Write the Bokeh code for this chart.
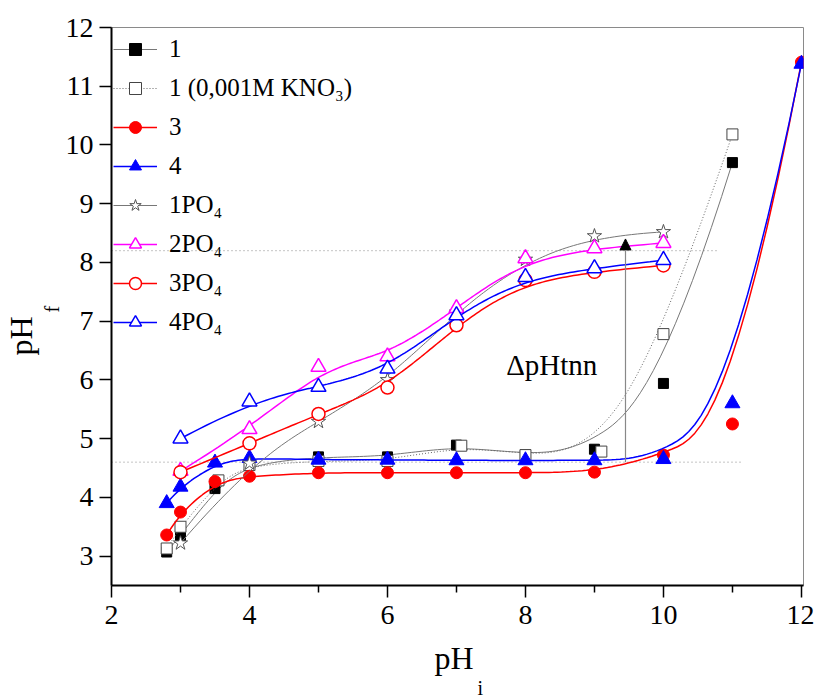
import numpy as np
from bokeh.plotting import figure
from bokeh.models import (FixedTicker, Label, Legend, LegendItem, Arrow,
                          NormalHead, Range1d, Title, InlineStyleSheet)
from bokeh.embed import file_html
from bokeh.resources import INLINE

# ---- measured data: initial pH (x) vs final pH (y) ----
x_s1 = [2.8, 3.0, 3.5, 4.0, 5.0, 6.0, 7.0, 8.0, 9.0, 10.0, 11.0]
y_s1 = [3.07, 3.35, 4.15, 4.57, 4.69, 4.69, 4.89, 4.72, 4.82, 5.94, 9.70]

x_s1k = [2.8, 3.0, 3.55, 4.0, 5.0, 6.0, 7.07, 8.0, 9.1, 10.0, 11.0]
y_s1k = [3.13, 3.50, 4.29, 4.55, 4.62, 4.62, 4.88, 4.72, 4.78, 6.78, 10.18]

x_s3 = [2.8, 3.0, 3.5, 4.0, 5.0, 6.0, 7.0, 8.0, 9.0, 10.0, 11.0, 12.0]
y_s3 = [3.36, 3.75, 4.27, 4.36, 4.42, 4.42, 4.42, 4.42, 4.43, 4.72, 5.25, 11.41]

x_s4 = [2.8, 3.0, 3.5, 4.0, 5.0, 6.0, 7.0, 8.0, 9.0, 10.0, 11.0, 12.0]
y_s4 = [3.90, 4.18, 4.59, 4.67, 4.64, 4.64, 4.63, 4.63, 4.63, 4.65, 5.60, 11.38]

x_po4 = [3.0, 4.0, 5.0, 6.0, 7.0, 8.0, 9.0, 10.0]
y_1po4 = [3.22, 4.58, 5.29, 6.00, 7.15, 8.05, 8.45, 8.52]
y_2po4 = [4.45, 5.16, 6.22, 6.40, 7.22, 8.07, 8.24, 8.33]
y_3po4 = [4.43, 4.92, 5.42, 5.87, 6.93, 7.70, 7.84, 7.95]
y_4po4 = [5.00, 5.63, 5.88, 6.19, 7.10, 7.75, 7.90, 8.04]

labels = ["1", "1 (0,001M KNO\u2083)", "3", "4",
          "1PO\u2084", "2PO\u2084", "3PO\u2084", "4PO\u2084"]

# reference levels and the buffering-capacity arrow
ref_levels = [8.2, 4.6]
ref_ends = [10.77, 11.13]
arrow_x = 9.45
arrow_y = [4.6, 8.4]

x_ticks = [2, 4, 6, 8, 10, 12]
x_minor = [3, 5, 7, 9, 11]
y_ticks = [3, 4, 5, 6, 7, 8, 9, 10, 11, 12]

FONT = "Liberation Serif"
GRAY = "#777777"


def bspline(xs, ys, degree=3, n=150):
    """Clamped uniform B-spline using the points as control points."""
    P = np.column_stack([xs, ys]).astype(float)
    m = len(P)
    k = min(degree, m - 1)
    inner = np.arange(0, m - k + 1, dtype=float)
    knots = np.concatenate([np.zeros(k), inner, np.full(k, inner[-1])])
    ts = np.linspace(0, inner[-1], n)
    out = []
    for t in ts:
        if t >= knots[-1]:
            out.append(P[-1])
            continue
        s = np.searchsorted(knots, t, side="right") - 1
        d = [P[j + s - k].copy() for j in range(k + 1)]
        for r in range(1, k + 1):
            for j in range(k, r - 1, -1):
                i = j + s - k
                den = knots[i + k + 1 - r] - knots[i]
                a = 0.0 if den == 0 else (t - knots[i]) / den
                d[j] = (1 - a) * d[j - 1] + a * d[j]
        out.append(d[k])
    out = np.round(np.array(out), 4)
    return out[:, 0].tolist(), out[:, 1].tolist()


serif_css = InlineStyleSheet(
    css="svg text, text { font-family: 'Liberation Serif', 'Times New Roman', serif !important; }")

p = figure(width=814, height=695, output_backend="svg", toolbar_location=None,
           x_range=Range1d(2, 12.03), y_range=Range1d(2.5, 12.0),
           min_border_left=110, min_border_right=11,
           min_border_top=27, min_border_bottom=110,
           stylesheets=[serif_css])
p.outline_line_color = "#8a8a8a"
p.outline_line_width = 1
p.xgrid.visible = False
p.ygrid.visible = False

# reference dotted levels
for lvl, end in zip(ref_levels, ref_ends):
    p.line([2, end], [lvl, lvl], line_color="#888888", line_width=1,
           line_dash="1 3")

series = [
    dict(x=x_s1, y=y_s1, lc=GRAY, lw=1, dash="solid", marker="square",
         size=10, fill="black", mline="black", mlw=1),
    dict(x=x_s1k, y=y_s1k, lc="#666666", lw=1, dash="1 2", marker="square",
         size=11, fill="white", mline="#444444", mlw=1),
    dict(x=x_s3, y=y_s3, lc="#ff0000", lw=1.5, dash="solid", marker="circle",
         size=12, fill="#ff0000", mline="#ff0000", mlw=1),
    dict(x=x_s4, y=y_s4, lc="#0000ff", lw=1.5, dash="solid", marker="triangle",
         size=15, fill="#0000ff", mline="#0000ff", mlw=1),
    dict(x=x_po4, y=y_1po4, lc=GRAY, lw=1, dash="solid", marker="star",
         size=15, fill="white", mline="#555555", mlw=1),
    dict(x=x_po4, y=y_2po4, lc="#ff00ff", lw=1.5, dash="solid",
         marker="triangle", size=15, fill="white", mline="#ff00ff", mlw=1.5),
    dict(x=x_po4, y=y_3po4, lc="#ff0000", lw=1.5, dash="solid",
         marker="circle", size=13, fill="white", mline="#ff0000", mlw=1.5),
    dict(x=x_po4, y=y_4po4, lc="#0000ff", lw=1.5, dash="solid",
         marker="triangle", size=15, fill="white", mline="#0000ff", mlw=1.5),
]

items = []
for s, lab in zip(series, labels):
    cx, cy = bspline(s["x"], s["y"])
    lr = p.line(cx, cy, line_color=s["lc"], line_width=s["lw"],
                line_dash=s["dash"])
    sr = p.scatter(s["x"], s["y"], marker=s["marker"], size=s["size"],
                   fill_color=s["fill"], line_color=s["mline"],
                   line_width=s["mlw"])
    items.append(LegendItem(label=lab, renderers=[lr, sr]))

legend = Legend(items=items, location="top_left", margin=0, padding=2,
                spacing=0, glyph_width=44, glyph_height=30, label_height=39,
                label_standoff=12, label_text_font=FONT,
                label_text_font_size="25px", label_text_color="black",
                border_line_alpha=0, background_fill_alpha=0)
p.add_layout(legend)

# arrow marking the pH buffering interval
p.add_layout(Arrow(x_start=arrow_x, y_start=arrow_y[0], x_end=arrow_x,
                   y_end=arrow_y[1], line_color="#888888", line_width=1.2,
                   end=NormalHead(size=11, fill_color="black",
                                  line_color="black", line_width=1)))

p.add_layout(Label(x=7.72, y=6.25, text="\u0394pHtnn", text_font=FONT,
                   text_font_size="29px", text_color="black",
                   text_baseline="alphabetic"))

# axes
for ax in (p.xaxis[0], p.yaxis[0]):
    ax.axis_line_width = 2
    ax.axis_line_color = "black"
    ax.major_tick_line_width = 1.5
    ax.major_tick_line_color = "black"
    ax.minor_tick_line_width = 1.5
    ax.minor_tick_line_color = "black"
    ax.major_tick_in = 0
    ax.major_tick_out = 12
    ax.minor_tick_in = 0
    ax.minor_tick_out = 7
    ax.major_label_text_font = FONT
    ax.major_label_text_font_size = "28px"
    ax.major_label_text_color = "black"

p.xaxis[0].ticker = FixedTicker(ticks=x_ticks, minor_ticks=x_minor)
p.yaxis[0].ticker = FixedTicker(ticks=y_ticks)
p.xaxis[0].major_label_standoff = 8
p.yaxis[0].major_label_standoff = 6

# axis titles with subscripts, built from side-panel titles
p.add_layout(Title(text="f", text_font=FONT, text_font_size="20px",
                   text_font_style="normal", align="left", offset=273,
                   standoff=0, text_color="black"), "left")
p.add_layout(Title(text="pH", text_font=FONT, text_font_size="32px",
                   text_font_style="normal", align="left", offset=230,
                   standoff=0, text_color="black"), "left")
p.add_layout(Title(text="pH", text_font=FONT, text_font_size="32px",
                   text_font_style="normal", align="left", offset=323,
                   standoff=22, text_color="black"), "below")
p.add_layout(Title(text="i", text_font=FONT, text_font_size="20px",
                   text_font_style="normal", align="left", offset=366,
                   standoff=-24, text_color="black"), "below")

html = file_html(p, INLINE)
html = html.replace(
    "</head>",
    "<style>text { font-family: 'Liberation Serif', 'Times New Roman', serif; }</style></head>", 1)
open("out.html", "w").write(html)
